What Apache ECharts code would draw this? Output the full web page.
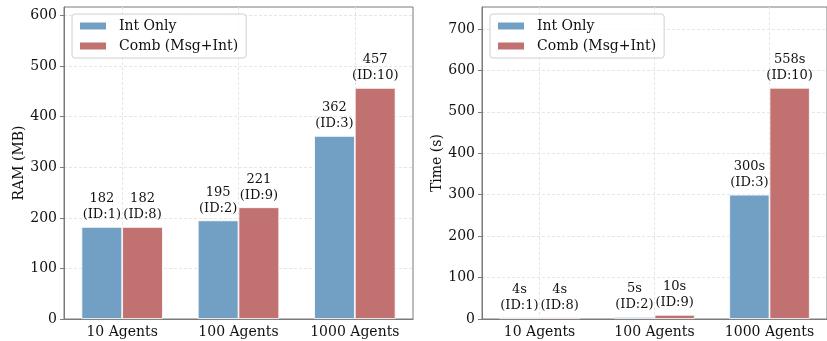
<!DOCTYPE html>
<html><head><meta charset="utf-8">
<script src="https://cdn.jsdelivr.net/npm/echarts@6/dist/echarts.min.js"></script>
<style>html,body{margin:0;padding:0;background:#fff}#c{width:827px;height:341px}</style>
</head><body><div id="c"></div>
<script>
const categories = ['10 Agents', '100 Agents', '1000 Agents'];
const seriesNames = ['Int Only', 'Comb (Msg+Int)'];
const ramInt = [182, 195, 362];
const ramComb = [182, 221, 457];
const timeInt = [4, 5, 300];
const timeComb = [4, 10, 558];
const idInt = [1, 2, 3];
const idComb = [8, 9, 10];
const ramTicks = [0, 100, 200, 300, 400, 500, 600];
const timeTicks = [0, 100, 200, 300, 400, 500, 600, 700];

const FONT = 'DejaVu Serif';
const BLUE = '#729fc4';
const RED = '#c27171';
const AX = '#7a7a7a';
const GRIDC = '#e6e6e6';

function xAx(i) {
  return {
    type: 'category', gridIndex: i, data: categories,
    axisLine: { lineStyle: { color: AX, width: 1 } },
    axisTick: { alignWithLabel: true, length: 4, lineStyle: { color: AX } },
    axisLabel: { color: '#111', fontFamily: FONT, fontSize: 14, margin: 6, interval: 0 },
    splitLine: { show: false }
  };
}
// hidden helper axis: splits at category centres (half-band positions)
function xGridAx(i) {
  const slots = [];
  for (let k = 0; k <= categories.length * 2; k++) slots.push(String(k));
  return {
    type: 'category', gridIndex: i, data: slots, boundaryGap: false,
    axisLine: { show: false }, axisTick: { show: false }, axisLabel: { show: false },
    splitLine: { show: true, interval: idx => idx % 2 === 1, lineStyle: { color: GRIDC, type: [3, 2] } }
  };
}
function yAx(i, max, ticks, name, gap) {
  return {
    type: 'value', gridIndex: i, min: 0, max: max, interval: 100,
    name: name, nameLocation: 'middle', nameGap: gap,
    nameTextStyle: { color: '#111', fontFamily: FONT, fontSize: 14 },
    axisLine: { show: true, lineStyle: { color: AX, width: 1 } },
    axisTick: { show: true, length: 4, lineStyle: { color: AX }, customValues: ticks },
    axisLabel: { color: '#111', fontFamily: FONT, fontSize: 14, margin: 7, customValues: ticks },
    splitLine: { show: true, lineStyle: { color: GRIDC, type: [3, 2] } }
  };
}
function bar(name, data, ids, xi, color, suffix) {
  return {
    type: 'bar', name: name, xAxisIndex: xi, yAxisIndex: xi, data: data,
    barWidth: '35%', barGap: '0%',
    itemStyle: { color: color, borderColor: '#fff', borderWidth: 0.8 },
    label: {
      show: true, position: 'top', distance: 4,
      fontFamily: FONT, fontSize: 13, lineHeight: 16, color: '#111',
      formatter: p => data[p.dataIndex] + suffix + '\n(ID:' + ids[p.dataIndex] + ')'
    }
  };
}
function legend(left) {
  return {
    data: seriesNames.map(n => ({ name: n })),
    orient: 'vertical', left: left, top: 14,
    itemWidth: 28, itemHeight: 9, itemGap: 6,
    padding: [5, 8, 5, 6],
    backgroundColor: 'rgba(255,255,255,0.8)', borderColor: '#d0d0d0', borderWidth: 1, borderRadius: 3,
    textStyle: { fontFamily: FONT, fontSize: 14, color: '#111', padding: [0, 0, 0, 7] },
    icon: 'rect', selectedMode: false
  };
}

const chart = echarts.init(document.getElementById('c'), null, { renderer: 'canvas' });
chart.setOption({
  animation: false,
  backgroundColor: '#fff',
  grid: [
    { left: 64, top: 7, width: 349, bottom: 22, show: true, borderColor: AX, borderWidth: 1 },
    { left: 482, top: 7, width: 351, bottom: 22, show: true, borderColor: AX, borderWidth: 1 }
  ],
  legend: [legend(72), legend(490)],
  xAxis: [xAx(0), xAx(1), xGridAx(0), xGridAx(1)],
  yAxis: [yAx(0, 617, ramTicks, 'RAM (MB)', 37), yAx(1, 753, timeTicks, 'Time (s)', 38)],
  series: [
    bar(seriesNames[0], ramInt, idInt, 0, BLUE, ''),
    bar(seriesNames[1], ramComb, idComb, 0, RED, ''),
    bar(seriesNames[0], timeInt, idInt, 1, BLUE, 's'),
    bar(seriesNames[1], timeComb, idComb, 1, RED, 's')
  ]
});
</script></body></html>
